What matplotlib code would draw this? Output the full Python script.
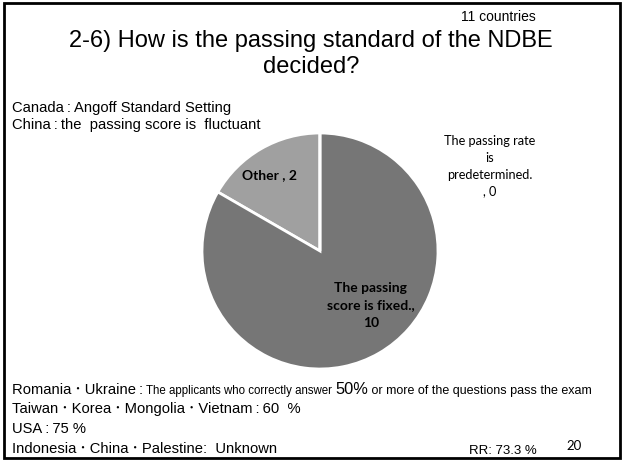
import matplotlib
matplotlib.use("Agg")
import matplotlib.pyplot as plt
from matplotlib.patches import Rectangle
from matplotlib.text import Annotation

# datos del grafico
categorias = ["Other", "The passing score is fixed.", "The passing rate is predetermined."]
valores = [2, 10, 0]
colores = ["#a0a0a0", "#767676", "#5a5a5a"]

titulo = "2-6) How is the passing standard of the NDBE\ndecided?"
nota_paises = "11 countries"
notas_arriba = ["Canada\u2009:\u2009Angoff Standard Setting",
                "China\u2009:\u2009the  passing score is  fluctuant"]
linea_rumania = [("Romania\u2009\uff65\u2009Ukraine\u2009:\u2009", 10.6), ("The applicants who correctly answer ", 8.3),
                 ("50%", 11.8), (" or more of the questions pass the exam", 9.0)]
notas_abajo = ["Taiwan\u2009\uff65\u2009Korea\u2009\uff65\u2009Mongolia\u2009\uff65\u2009Vietnam\u2009:\u200960  %",
               "USA\u2009:\u200975 %",
               "Indonesia\u2009\uff65\u2009China\u2009\uff65\u2009Palestine:  Unknown"]
tasa = "RR: 73.3 %"
pagina = "20"

fuente = ["Liberation Sans", "Noto Sans CJK JP", "DejaVu Sans"]
fuente_et = ["Lato", "DejaVu Sans"]

W, H = 623, 470
fig = plt.figure(figsize=(W / 100, H / 100), dpi=100)


def fx(px):
    return px / W


def fy(py):
    return 1 - py / H


# marco
fig.patches.append(Rectangle((fx(4), fy(458)), fx(616), 455 / H, transform=fig.transFigure,
                             fill=False, edgecolor="black", linewidth=2))

# pie
cx, cy, r = 320, 251, 118
ax = fig.add_axes([fx(cx - r), fy(cy + r), 2 * r / W, 2 * r / H])
ax.pie(valores, colors=colores, startangle=90, counterclock=True, radius=1,
       wedgeprops=dict(edgecolor="white", linewidth=2))
ax.set_xlim(-1, 1)
ax.set_ylim(-1, 1)
ax.set_aspect("auto")
ax.axis("off")

ax.text(-0.43, 0.64, "%s , %d" % (categorias[0], valores[0]), ha="center", va="center",
        fontsize=10, fontweight="bold", family=fuente_et, color="black")
ax.text(0.43, -0.46, "The passing\nscore is fixed.,\n%d" % valores[1], ha="center", va="center",
        fontsize=10, fontweight="bold", family=fuente_et, color="black", linespacing=1.55)
ax.text(1.44, 0.72, "The passing rate\nis\npredetermined.\n, %d" % valores[2], ha="center", va="center",
        fontsize=9.2, family=fuente_et, color="black", linespacing=1.5, clip_on=False)

# titulo
fig.text(fx(311), fy(54), titulo, ha="center", va="center", fontsize=17,
         family=fuente, linespacing=1.2)
fig.text(fx(498), fy(17), nota_paises, ha="center", va="center", fontsize=10, family=fuente)

for i, t in enumerate(notas_arriba):
    fig.text(fx(12), fy(112 + i * 17), t, ha="left", va="baseline", fontsize=10.6, family=fuente)

# linea de Rumania con varios tamanos
y0 = fy(394)
prev = fig.text(fx(12), y0, linea_rumania[0][0], ha="left", va="baseline",
                fontsize=linea_rumania[0][1], family=fuente)
for txt, sz in linea_rumania[1:]:
    prev = fig.add_artist(Annotation(txt, xy=(1, y0), xycoords=(prev, "figure fraction"),
                                     ha="left", va="baseline", fontsize=sz, family=fuente))

for i, t in enumerate(notas_abajo):
    fig.text(fx(12), fy(413 + i * 20), t, ha="left", va="baseline", fontsize=10.6, family=fuente)

fig.text(fx(469), fy(454), tasa, ha="left", va="baseline", fontsize=9.5, family=fuente)
fig.text(fx(566), fy(450), pagina, ha="left", va="baseline", fontsize=9.5, family=fuente_et)

fig.savefig("out.png", dpi=100)
